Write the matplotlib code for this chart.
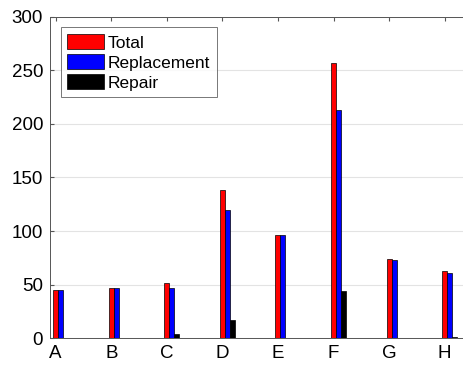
import numpy as np
import matplotlib.pyplot as plt

categories = ['A', 'B', 'C', 'D', 'E', 'F', 'G', 'H']
total = [45, 47, 51, 138, 96, 257, 74, 63]
replacement = [45, 47, 47, 120, 96, 213, 73, 61]
repair = [0, 0, 4, 17, 0, 44, 0.5, 1]

plt.rcParams['font.family'] = ['Liberation Sans', 'DejaVu Sans']

fig = plt.figure(figsize=(4.64, 3.74), dpi=100)
ax = fig.add_axes([0.108, 0.096, 0.89, 0.859])

x = np.arange(1, len(categories) + 1)
w = 0.09
ax.bar(x, total, w, color='#ff0000', edgecolor='black', linewidth=0.5, label='Total', zorder=3)
ax.bar(x + w, replacement, w, color='#0000ff', edgecolor='black', linewidth=0.5, label='Replacement', zorder=3)
ax.bar(x + 2 * w, repair, w, color='black', edgecolor='black', linewidth=0.5, label='Repair', zorder=3)

ax.set_xlim(0.9, 8.33)
ax.set_ylim(0, 300)
ax.set_xticks(x)
ax.set_xticklabels(categories)
ax.set_yticks(range(0, 301, 50))
ax.yaxis.grid(True, color='#e3e3e3', linewidth=0.8, zorder=0)
ax.tick_params(direction='in', top=True, labelsize=13.5, length=3, color='#555555', pad=5)
for s in ['left', 'top', 'bottom']:
    ax.spines[s].set_color('#555555')
    ax.spines[s].set_linewidth(0.7)
ax.spines['right'].set_visible(False)

leg = ax.legend(loc='upper left', fontsize=12.5, handlelength=2.1, handleheight=0.95,
                handletextpad=0.2, labelspacing=0.2, borderpad=0.4,
                fancybox=False, edgecolor='#555555', borderaxespad=0.6)
leg.get_frame().set_linewidth(0.7)

plt.savefig('out.png', dpi=100)
